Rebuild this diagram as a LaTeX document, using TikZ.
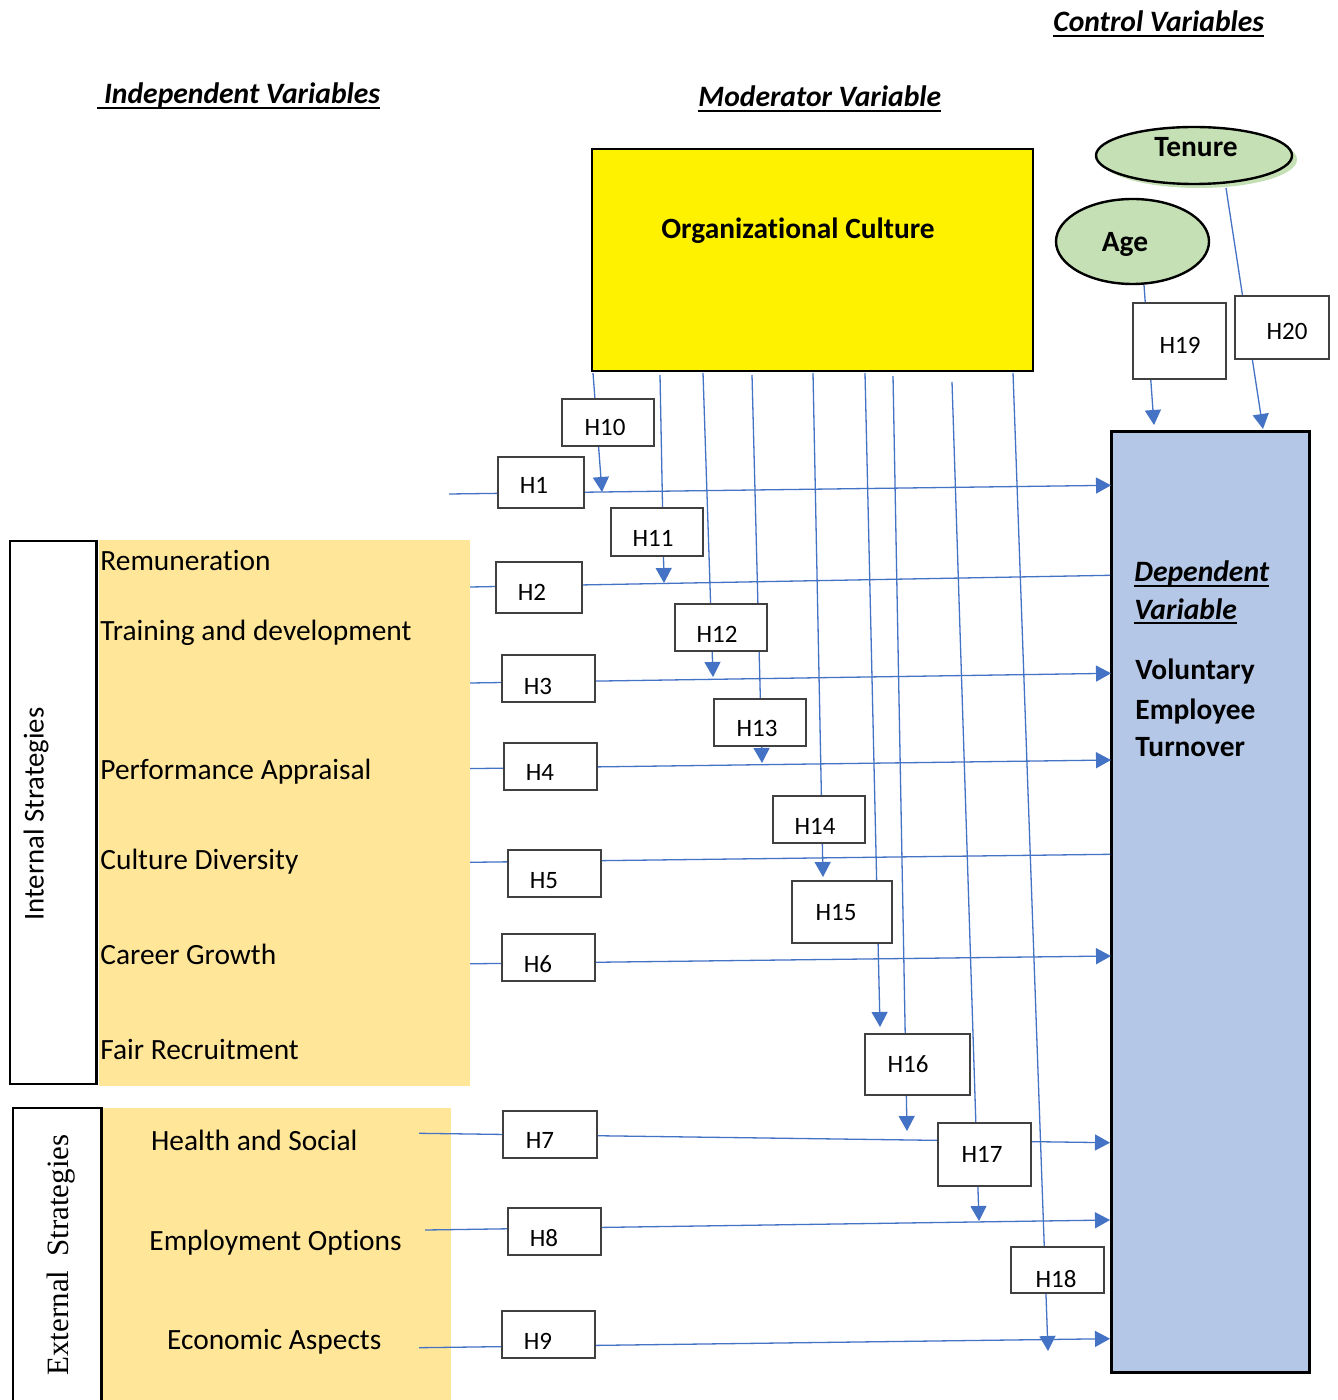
\documentclass[tikz,border=0pt]{standalone}
\usepackage{fontspec}
\setmainfont{Carlito}[Ligatures=NoCommon]
\newfontfamily\serifface{Liberation Serif}
\usetikzlibrary{arrows.meta,shapes.geometric,fit}
\definecolor{lineblue}{HTML}{4472C4}
\definecolor{dvblue}{HTML}{B4C7E7}
\definecolor{ivyellow}{HTML}{FFE699}
\definecolor{ctgreen}{HTML}{C5E0B4}
\definecolor{boxgray}{HTML}{404040}
\newsavebox\ulbox
\newcommand\myul[1]{\sbox\ulbox{#1}\rlap{\rule[-2.6pt]{\wd\ulbox}{1pt}}\usebox\ulbox}
\begin{document}
\begin{tikzpicture}[x=0.5pt,y=-0.5pt,
  conn/.style={draw=lineblue,line width=0.65pt},
  arr/.style={conn,-{Triangle[length=7.5pt,width=8pt]}},
  hbox/.style={draw=boxgray,line width=0.8pt,fill=white,inner sep=0pt},
  htext/.style={font=\fontsize{12.5}{15}\selectfont,anchor=base,inner sep=0pt},
  lbl/.style={font=\fontsize{14.7}{18}\selectfont,anchor=base west,inner sep=0pt},
  head/.style={font=\fontsize{14.8}{18}\selectfont\bfseries\itshape,anchor=base west,inner sep=0pt},
  big/.style={font=\fontsize{14.7}{18}\selectfont\bfseries,anchor=base,inner sep=0pt},
  bigw/.style={font=\fontsize{14.7}{18}\selectfont\bfseries,anchor=base west,inner sep=0pt},
  region/.style={inner sep=0pt,outer sep=0pt}]
\useasboundingbox (0,0) rectangle (1337,1400);
\fill[white] (0,0) rectangle (1337,1400);

% headings
\node[head] (hctrl) at (1053,32) {\myul{Control Variables}};
\node[head] (hind) at (97,104) {\myul{\ Independent Variables}};
\node[head] (hmod) at (698,107) {\myul{Moderator Variable}};

% left regions
\node[region,fill=ivyellow,fit={(99,540)(470,1086)}] (intyel) {};
\node[region,draw=black,line width=1.2pt,fit={(10,541)(96.5,1084)}] (intbox) {};
\node[region,fill=ivyellow,fit={(103,1108)(451,1400)}] (extyel) {};
\node[region,draw=black,line width=1.2pt,fit={(13,1108)(101.5,1420)}] (extbox) {};
\node[font=\fontsize{14.4}{17}\selectfont,rotate=90,anchor=base,inner sep=0pt] (intt) at (43.5,814) {Internal Strategies};
\node[font=\serifface\fontsize{15.5}{18}\selectfont,rotate=90,anchor=base,inner sep=0pt] (extt) at (68.3,1255) {External\hspace{0.45em}Strategies};

\node[lbl] (l1) at (100,570) {Remuneration};
\node[lbl] (l2) at (100,640) {Training and development};
\node[lbl] (l3) at (100,779) {Performance Appraisal};
\node[lbl] (l4) at (100,869) {Culture Diversity};
\node[lbl] (l5) at (100,964.5) {Career Growth};
\node[lbl] (l6) at (100,1059) {Fair Recruitment};
\node[lbl] (l7) at (150.7,1150) {Health and Social};
\node[lbl] (l8) at (149,1250.7) {Employment Options};
\node[lbl] (l9) at (166.7,1349.3) {Economic Aspects};

% moderator and dependent
\node[region,draw=black,line width=1.4pt,fill=yellow,fit={(592,149)(1033,371)}] (org) {};
\node[big] (orgt) at (798,238.3) {Organizational Culture};
\node[region,draw=black,line width=1.5pt,fill=dvblue,fit={(1111,432)(1309,1372)}] (dep) {};
\node[head] (d1) at (1134,581.7) {\myul{Dependent}};
\node[head] (d2) at (1134,619) {\myul{Variable}};
\node[bigw] (d3) at (1135,679.3) {Voluntary};
\node[bigw] (d4) at (1135,719.3) {Employee};
\node[bigw] (d5) at (1135,756.7) {Turnover};

% control ellipses
\node[ellipse,fill=ctgreen,minimum width=98pt,minimum height=28.5pt,inner sep=0pt] (tshadow) at (1199,159.5) {};
\node[ellipse,draw=black,line width=1.2pt,fill=ctgreen,minimum width=98pt,minimum height=28.5pt,inner sep=0pt] (tenure) at (1194,155.5) {};
\node[big] (tenuret) at (1196,156.7) {Tenure};
\node[ellipse,draw=black,line width=1.2pt,fill=ctgreen,minimum width=76.5pt,minimum height=42.5pt,inner sep=0pt] (age) at (1132.5,241.5) {};
\node[big] (aget) at (1125,251.7) {Age};

% connector end points
\coordinate (a1) at (449,494);    \coordinate (b1) at (1111,485.3);
\coordinate (a2) at (470,587);    \coordinate (b2) at (1110,575.3);
\coordinate (a3) at (470,683);    \coordinate (b3) at (1111,673.3);
\coordinate (a4) at (470,768.6);  \coordinate (b4) at (1111,760);
\coordinate (a5) at (470,862.3);  \coordinate (b5) at (1110,854.3);
\coordinate (a6) at (470,963.8);  \coordinate (b6) at (1111,956);
\coordinate (a7) at (419,1133.3); \coordinate (b7) at (1110,1142.7);
\coordinate (a8) at (425,1230);   \coordinate (b8) at (1110,1220);
\coordinate (a9) at (419,1347.7); \coordinate (b9) at (1110,1338.7);

\coordinate (m1) at (593,373);  \coordinate (n1) at (602,492);
\coordinate (m2) at (660,375);  \coordinate (n2) at (664,583);
\coordinate (m3) at (703,373);  \coordinate (n3) at (713,677);
\coordinate (m4) at (752,375);  \coordinate (n4) at (762,763);
\coordinate (m5) at (813,373);  \coordinate (n5) at (823,877);
\coordinate (m6) at (865,373);  \coordinate (n6) at (880,1027);
\coordinate (m7) at (893,376);  \coordinate (n7) at (907,1131);
\coordinate (m8) at (952,382);  \coordinate (n8) at (979,1221);
\coordinate (m9) at (1013,373); \coordinate (n9) at (1048,1351);
\coordinate (c1) at (1144,285); \coordinate (e1) at (1154,425);
\coordinate (c2) at (1226,188); \coordinate (e2) at (1263,429);

% connectors
\draw[arr] (a1) -- (b1);
\draw[conn] (a2) -- (b2);
\draw[arr] (a3) -- (b3);
\draw[arr] (a4) -- (b4);
\draw[conn] (a5) -- (b5);
\draw[arr] (a6) -- (b6);
\draw[arr] (a7) -- (b7);
\draw[arr] (a8) -- (b8);
\draw[arr] (a9) -- (b9);
\draw[arr] (m1) -- (n1);
\draw[arr] (m2) -- (n2);
\draw[arr] (m3) -- (n3);
\draw[arr] (m4) -- (n4);
\draw[arr] (m5) -- (n5);
\draw[arr] (m6) -- (n6);
\draw[arr] (m7) -- (n7);
\draw[arr] (m8) -- (n8);
\draw[arr] (m9) -- (n9);
\draw[arr] (c1) -- (e1);
\draw[arr] (c2) -- (e2);

% hypothesis boxes
\node[hbox,fit={(498,457)(584,508)}] (h1) {};
\node[hbox,fit={(496,562)(582,613)}] (h2) {};
\node[hbox,fit={(502,655)(595,702)}] (h3) {};
\node[hbox,fit={(504,743)(597,790)}] (h4) {};
\node[hbox,fit={(508,850)(601,897)}] (h5) {};
\node[hbox,fit={(502,934)(595,981)}] (h6) {};
\node[hbox,fit={(503,1111)(597,1158)}] (h7) {};
\node[hbox,fit={(508,1208)(601,1255)}] (h8) {};
\node[hbox,fit={(502,1311)(595,1358)}] (h9) {};
\node[hbox,fit={(562,399)(654,446)}] (h10) {};
\node[hbox,fit={(611,508)(703,556)}] (h11) {};
\node[hbox,fit={(675,604)(767,651)}] (h12) {};
\node[hbox,fit={(714,699)(806,746)}] (h13) {};
\node[hbox,fit={(773,796)(865,843)}] (h14) {};
\node[hbox,fit={(792,881)(892,943)}] (h15) {};
\node[hbox,fit={(865,1034)(970,1095)}] (h16) {};
\node[hbox,fit={(938,1123)(1031,1186)}] (h17) {};
\node[hbox,fit={(1011,1247)(1104,1293)}] (h18) {};
\node[hbox,fit={(1133,303)(1226,379)}] (h19) {};
\node[hbox,fit={(1235,296)(1329,359)}] (h20) {};

\node[htext] (t1) at (534,494) {H1};
\node[htext] (t2) at (532,600) {H2};
\node[htext] (t3) at (538,694) {H3};
\node[htext] (t4) at (540,780) {H4};
\node[htext] (t5) at (544,888) {H5};
\node[htext] (t6) at (538,972) {H6};
\node[htext] (t7) at (540,1148) {H7};
\node[htext] (t8) at (544,1246) {H8};
\node[htext] (t9) at (538,1349) {H9};
\node[htext] (t10) at (605,436) {H10};
\node[htext] (t11) at (653,546) {H11};
\node[htext] (t12) at (717,642) {H12};
\node[htext] (t13) at (757,736) {H13};
\node[htext] (t14) at (815,834) {H14};
\node[htext] (t15) at (836,920) {H15};
\node[htext] (t16) at (908,1072) {H16};
\node[htext] (t17) at (982,1162) {H17};
\node[htext] (t18) at (1056,1287) {H18};
\node[htext] (t19) at (1180,354) {H19};
\node[htext] (t20) at (1287,340) {H20};
\end{tikzpicture}
\end{document}
